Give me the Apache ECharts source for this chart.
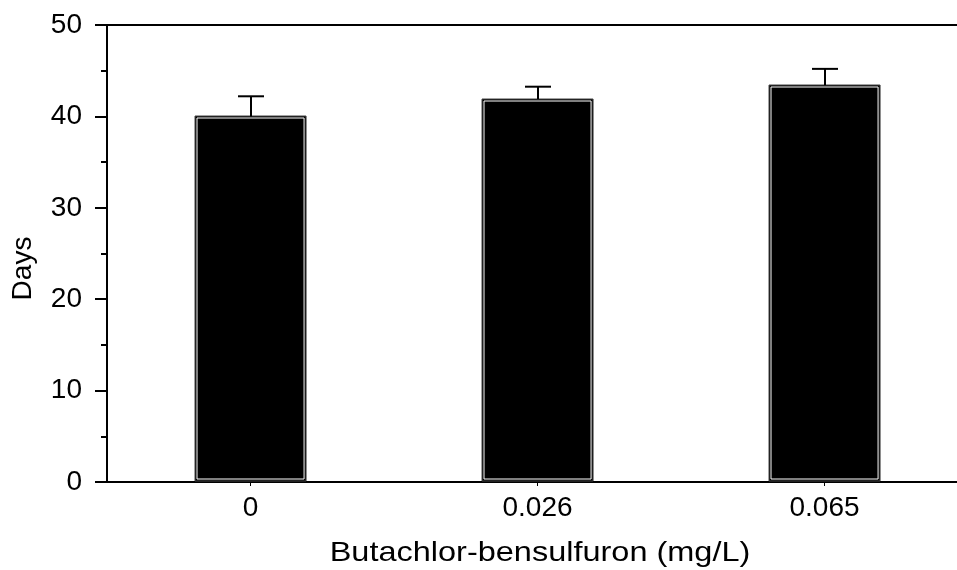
<!DOCTYPE html>
<html>
<head>
<meta charset="utf-8">
<script src="https://cdn.jsdelivr.net/npm/echarts@6/dist/echarts.min.js"></script>
<style>
html,body{margin:0;padding:0;background:#fff;}
#chart{width:957px;height:570px;}
</style>
</head>
<body>
<div id="chart"></div>
<script>
const categories = ['0', '0.026', '0.065'];
const meanDays = [40.0, 41.9, 43.4];
const errorDays = [2.2, 1.35, 1.8];
const yTicks = [0, 10, 20, 30, 40, 50];
const xTitle = 'Butachlor-bensulfuron (mg/L)';
const yTitle = 'Days';

const FONT = '"Liberation Sans", Arial, sans-serif';

const barData = categories.map((c, i) => [i, meanDays[i]]);
const errData = categories.map((c, i) => [i, meanDays[i], meanDays[i] + errorDays[i]]);

const chart = echarts.init(document.getElementById('chart'), null, {renderer: 'canvas'});
chart.setOption({
  animation: false,
  backgroundColor: '#fff',
  grid: {
    left: 107, top: 25, right: -11, bottom: 88,
    show: true, borderColor: '#000', borderWidth: 2, backgroundColor: 'transparent',
    outerBoundsMode: 'none'
  },
  graphic: [
    {
      type: 'text',
      x: 540, y: 553,
      scaleX: 1.16,
      style: {
        text: xTitle,
        x: 0, y: 0,
        align: 'center', verticalAlign: 'middle',
        fontSize: 28, fontFamily: FONT, fill: '#000'
      }
    }
  ],
  xAxis: {
    type: 'category',
    data: categories,
    boundaryGap: true,
    axisLine: {show: true, lineStyle: {color: '#000', width: 2}},
    axisTick: {show: true, alignWithLabel: true, length: 4, lineStyle: {color: '#000', width: 1}},
    axisLabel: {fontSize: 28, color: '#000', fontFamily: FONT, margin: 12},
    splitLine: {show: false}
  },
  yAxis: {
    type: 'value',
    min: yTicks[0], max: yTicks[yTicks.length - 1], interval: 10,
    name: yTitle,
    nameLocation: 'middle',
    nameGap: 70,
    nameRotate: 90,
    nameTextStyle: {fontSize: 28, color: '#000', fontFamily: FONT, padding: [0, 0, 0, -30]},
    axisLine: {show: true, lineStyle: {color: '#000', width: 2}},
    axisTick: {show: true, inside: false, length: 12, lineStyle: {color: '#000', width: 2}},
    minorTick: {show: true, splitNumber: 2, length: 6, lineStyle: {color: '#000', width: 2}},
    axisLabel: {fontSize: 28, color: '#000', fontFamily: FONT, margin: 25},
    splitLine: {show: false}
  },
  series: [
    {
      type: 'custom',
      data: barData,
      encode: {x: 0, y: 1},
      z: 2,
      renderItem: function (params, api) {
        const idx = api.value(0);
        const top = api.coord([idx, api.value(1)]);
        const base = api.coord([idx, 0]);
        const band = api.size([1, 0])[0];
        const w = band * 0.387;
        const x0 = Math.round(top[0] - w / 2);
        const y0 = Math.round(top[1]);
        const h = Math.round(base[1]) - y0 - 1;
        return {
          type: 'group',
          children: [
            {type: 'rect', shape: {x: x0, y: y0, width: w, height: h},
             style: {fill: '#000', stroke: '#444', lineWidth: 1}},
            {type: 'rect', shape: {x: x0 + 2, y: y0 + 2, width: w - 4, height: h - 4},
             style: {fill: null, stroke: '#fff', lineWidth: 1}}
          ]
        };
      }
    },
    {
      type: 'custom',
      data: errData,
      encode: {x: 0, y: [1, 2]},
      z: 3,
      renderItem: function (params, api) {
        const idx = api.value(0);
        const lo = api.coord([idx, api.value(1)]);
        const hi = api.coord([idx, api.value(2)]);
        const cx = Math.round(lo[0]);
        const cap = 13;
        const st = {stroke: '#000', lineWidth: 2};
        return {
          type: 'group',
          children: [
            {type: 'line', shape: {x1: cx, y1: lo[1], x2: cx, y2: hi[1]}, style: st},
            {type: 'line', shape: {x1: cx - cap, y1: hi[1], x2: cx + cap, y2: hi[1]}, style: st}
          ]
        };
      }
    }
  ]
});
</script>
</body>
</html>
